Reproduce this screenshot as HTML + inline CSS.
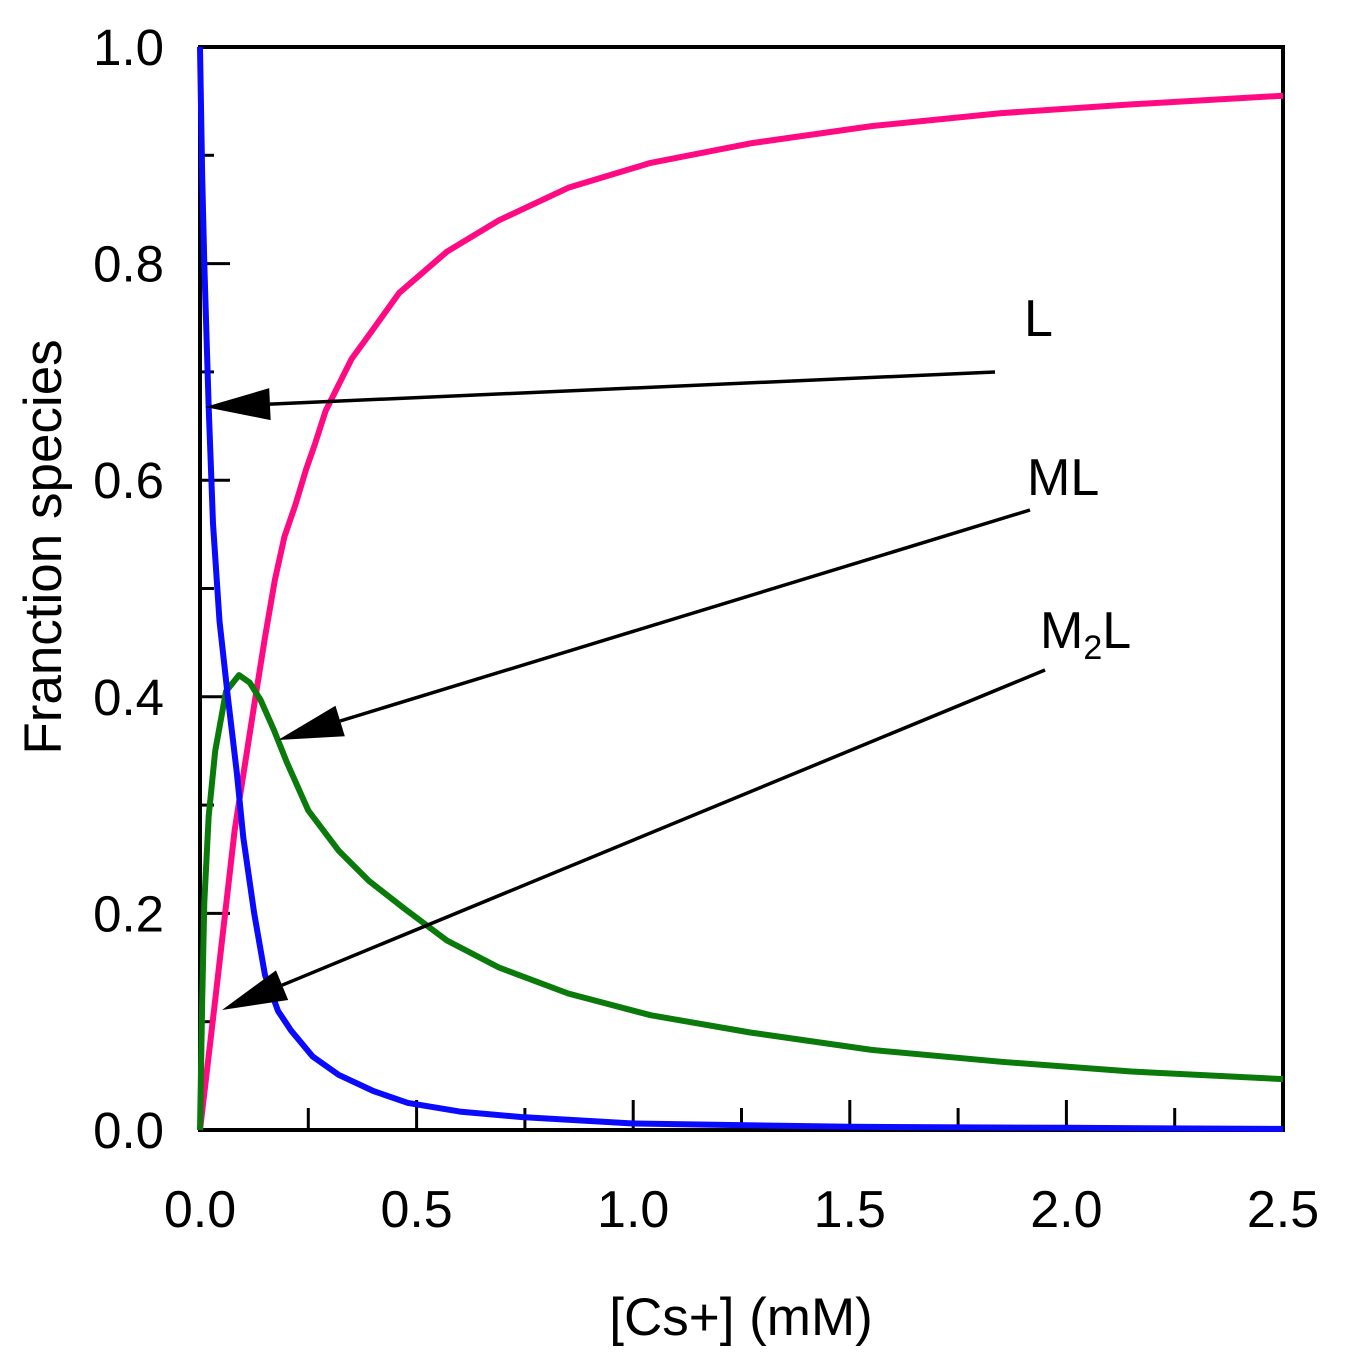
<!DOCTYPE html>
<html><head><meta charset="utf-8"><style>
html,body{margin:0;padding:0;background:#fff;}
svg{display:block;font-family:"Liberation Sans",Arial,sans-serif;}
</style></head><body>
<svg id="chart" width="1358" height="1360" viewBox="0 0 1358 1360">
<g id="axes"></g>
<g id="series"></g>
<g id="annot"></g>
</svg>
<script>
const xTicks=[0,0.5,1.0,1.5,2.0,2.5];
const xTickLabels=["0.0","0.5","1.0","1.5","2.0","2.5"];
const yTicks=[0,0.2,0.4,0.6,0.8,1.0];
const yTickLabels=["0.0","0.2","0.4","0.6","0.8","1.0"];
const lX=[0,0.005,0.01,0.02,0.03,0.045,0.065,0.085,0.1,0.125,0.15,0.18,0.21,0.26,0.32,0.4,0.48,0.6,0.74,1.0,1.5,2.0,2.5];
const lY=[1.0,0.88,0.8,0.667,0.56,0.47,0.397,0.33,0.27,0.2,0.143,0.11,0.092,0.068,0.051,0.036,0.025,0.017,0.012,0.006,0.003,0.002,0.001];
const mlX=[0,0.005,0.01,0.02,0.035,0.06,0.09,0.115,0.14,0.17,0.2,0.25,0.32,0.39,0.47,0.57,0.69,0.85,1.04,1.27,1.55,1.85,2.15,2.5];
const mlY=[0,0.12,0.21,0.29,0.35,0.405,0.42,0.413,0.397,0.37,0.34,0.295,0.258,0.23,0.205,0.175,0.15,0.126,0.106,0.09,0.074,0.063,0.054,0.047];
const m2lX=[0,0.035,0.08,0.127,0.15,0.173,0.195,0.22,0.245,0.265,0.29,0.32,0.35,0.39,0.46,0.57,0.69,0.85,1.04,1.27,1.55,1.85,2.15,2.5];
const m2lY=[0,0.12,0.277,0.397,0.455,0.508,0.548,0.577,0.61,0.633,0.664,0.688,0.712,0.734,0.773,0.811,0.84,0.87,0.893,0.911,0.927,0.939,0.947,0.955];

const X0=200,X1=1283,Y0=1130,Y1=47;
const sx=v=>X0+(v/2.5)*(X1-X0);
const sy=v=>Y0-v*(Y0-Y1);
const NS="http://www.w3.org/2000/svg";
function mk(tag,attrs,parent){const e=document.createElementNS(NS,tag);for(const k in attrs)e.setAttribute(k,attrs[k]);parent.appendChild(e);return e;}
const axes=document.getElementById('axes');
const frame=mk('rect',{x:X0,y:Y1,width:X1-X0,height:Y0-Y1,fill:'none',stroke:'#000','stroke-width':4},axes);


for(let i=0;i<xTicks.length;i++){
  const x=sx(xTicks[i]);
  const t=mk('line',{x1:x,x2:x,y1:Y0,y2:Y0-30,stroke:'#000','stroke-width':3},axes);
  
  
  if(i<xTicks.length-1){const xm=sx(xTicks[i]+0.25);
    const m=mk('line',{x1:xm,x2:xm,y1:Y0,y2:Y0-22,stroke:'#000','stroke-width':3},axes);
    
    }
  const lb=mk('text',{x:x,y:1227,'font-size':52,'text-anchor':'middle'},axes);lb.textContent=xTickLabels[i];
  
  
}
for(let i=0;i<yTicks.length;i++){
  const y=sy(yTicks[i]);
  const t=mk('line',{x1:X0,x2:X0+30,y1:y,y2:y,stroke:'#000','stroke-width':3},axes);
  
  
  if(i<yTicks.length-1){const ym=sy(yTicks[i]+0.1);
    const m=mk('line',{x1:X0,x2:X0+14,y1:ym,y2:ym,stroke:'#000','stroke-width':3},axes);
    
    }
  const lb=mk('text',{x:164,y:y+18,'font-size':51,'text-anchor':'end'},axes);lb.textContent=yTickLabels[i];
  
  
}
const xt=mk('text',{x:741,y:1335,'font-size':53,'text-anchor':'middle'},axes);xt.textContent='[Cs+] (mM)';


const yt=mk('text',{x:0,y:0,'font-size':53,'text-anchor':'middle',transform:'translate(61,547) rotate(-90)'},axes);yt.textContent='Franction species';



const ser=document.getElementById('series');
function line(xs,ys,color,name){
  const d=xs.map((v,i)=>(i?'L':'M')+sx(v).toFixed(1)+','+sy(ys[i]).toFixed(1)).join(' ');
  const p=mk('path',{d:d,fill:'none',stroke:color,'stroke-width':6,'stroke-linejoin':'round'},ser);
  
  
}
line(m2lX,m2lY,'#ff0a82','series-m2l');
line(mlX,mlY,'#0a7a0a','series-ml');
line(lX,lY,'#0a0aff','series-l');

const an=document.getElementById('annot');
function arrow(x1,y1,x2,y2,name){
  const dx=x2-x1,dy=y2-y1,L=Math.hypot(dx,dy),ux=dx/L,uy=dy/L;
  const hl=65,hw=16,bx=x2-ux*hl,by=y2-uy*hl;
  const l=mk('line',{x1:x1,y1:y1,x2:bx,y2:by,stroke:'#000','stroke-width':3.5},an);
  
  
  const h=mk('polygon',{points:`${x2},${y2} ${bx-uy*hw},${by+ux*hw} ${bx+uy*hw},${by-ux*hw}`,fill:'#000'},an);
  
  
}
arrow(995,372,205,407,'arrow-l');
arrow(1030,510,278,740,'arrow-ml');
arrow(1045,670,222,1010,'arrow-m2l');
const t1=mk('text',{x:1024,y:336,'font-size':52},an);t1.textContent='L';


const t2=mk('text',{x:1027,y:495,'font-size':52},an);t2.textContent='ML';


const t3=mk('text',{x:1040,y:648,'font-size':52},an);


t3.innerHTML='M<tspan font-size="34" dy="11">2</tspan><tspan dy="-11">L</tspan>';
</script>
</body></html>
